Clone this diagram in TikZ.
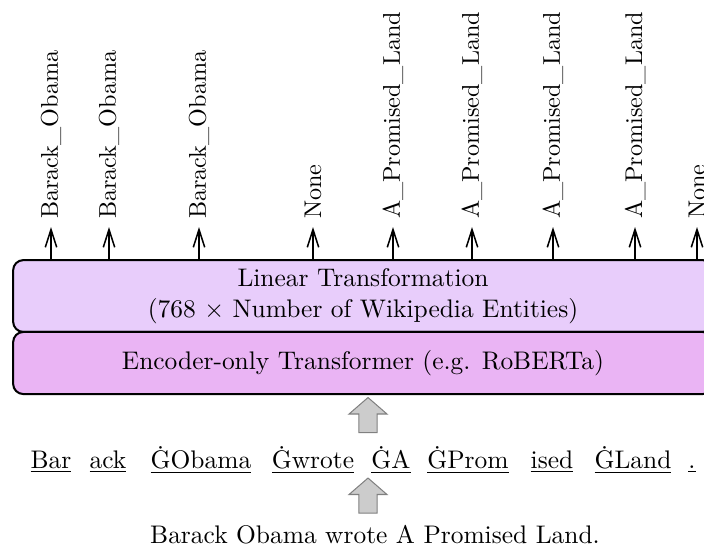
\documentclass[tikz,border=0pt]{standalone}
\usetikzlibrary{arrows.meta,shapes.arrows}
\definecolor{linfill}{RGB}{232,205,251}
\definecolor{encfill}{RGB}{234,180,244}

\begin{document}
\begin{tikzpicture}[x=0.393pt,y=-0.393pt,
        layerbox/.style = {draw, thick, rounded corners, align=center,
            minimum width=275pt},
        outarrow/.style = {-{Straight Barb[length=7pt,width=4.5pt]}, semithick},
        entity/.style = {rotate=90, anchor=west, inner sep=3pt,
            font=\fontsize{9.5}{11}\selectfont},
        token/.style = {anchor=base},
        bigarrow/.style = {single arrow, draw=gray, fill=gray!40, rotate=90,
            minimum height=13.8pt, inner xsep=0pt, inner ysep=3.35pt,
            single arrow head extend=3.9pt, single arrow tip angle=98}]
    \useasboundingbox (0,0) rectangle (704,546);
    % the two layers
    \node[layerbox, fill=linfill, minimum height=25.2pt] (lin) at (363,296)
        {Linear Transformation\\(768 $\times$ Number of Wikipedia Entities)};
    \node[layerbox, fill=encfill, minimum height=24.4pt] (enc) at (363,363)
        {Encoder-only Transformer (e.g. RoBERTa)};
    % predicted entities
    \foreach \x/\name [count=\i] in {51/Barack\_Obama, 109/Barack\_Obama,
            199/Barack\_Obama, 313/None, 393/A\_Promised\_Land,
            472/A\_Promised\_Land, 553/A\_Promised\_Land,
            635/A\_Promised\_Land, 697/None}
    {
        \coordinate (tip\i) at (\x,227);
        \draw[outarrow] (lin.north -| tip\i) -- (tip\i);
        \node[entity] (ent\i) at (tip\i) {\name};
    }
    % tokens
    \foreach \x/\tok [count=\i] in {51/Bar, 108/ack, 201/\.GObama,
            313/\.Gwrote, 391/\.GA, 468/\.GProm, 552/ised, 633/\.GLand, 692/.}
        \node[token] (tok\i) at (\x,468) {\underline{\tok}};
    \node[token] (sent) at (375,543) {Barack Obama wrote A Promised Land.};
    % block arrows
    \node[bigarrow] (up1) at (368,419) {};
    \node[bigarrow] (up2) at (368,499.5) {};
\end{tikzpicture}
\end{document}
